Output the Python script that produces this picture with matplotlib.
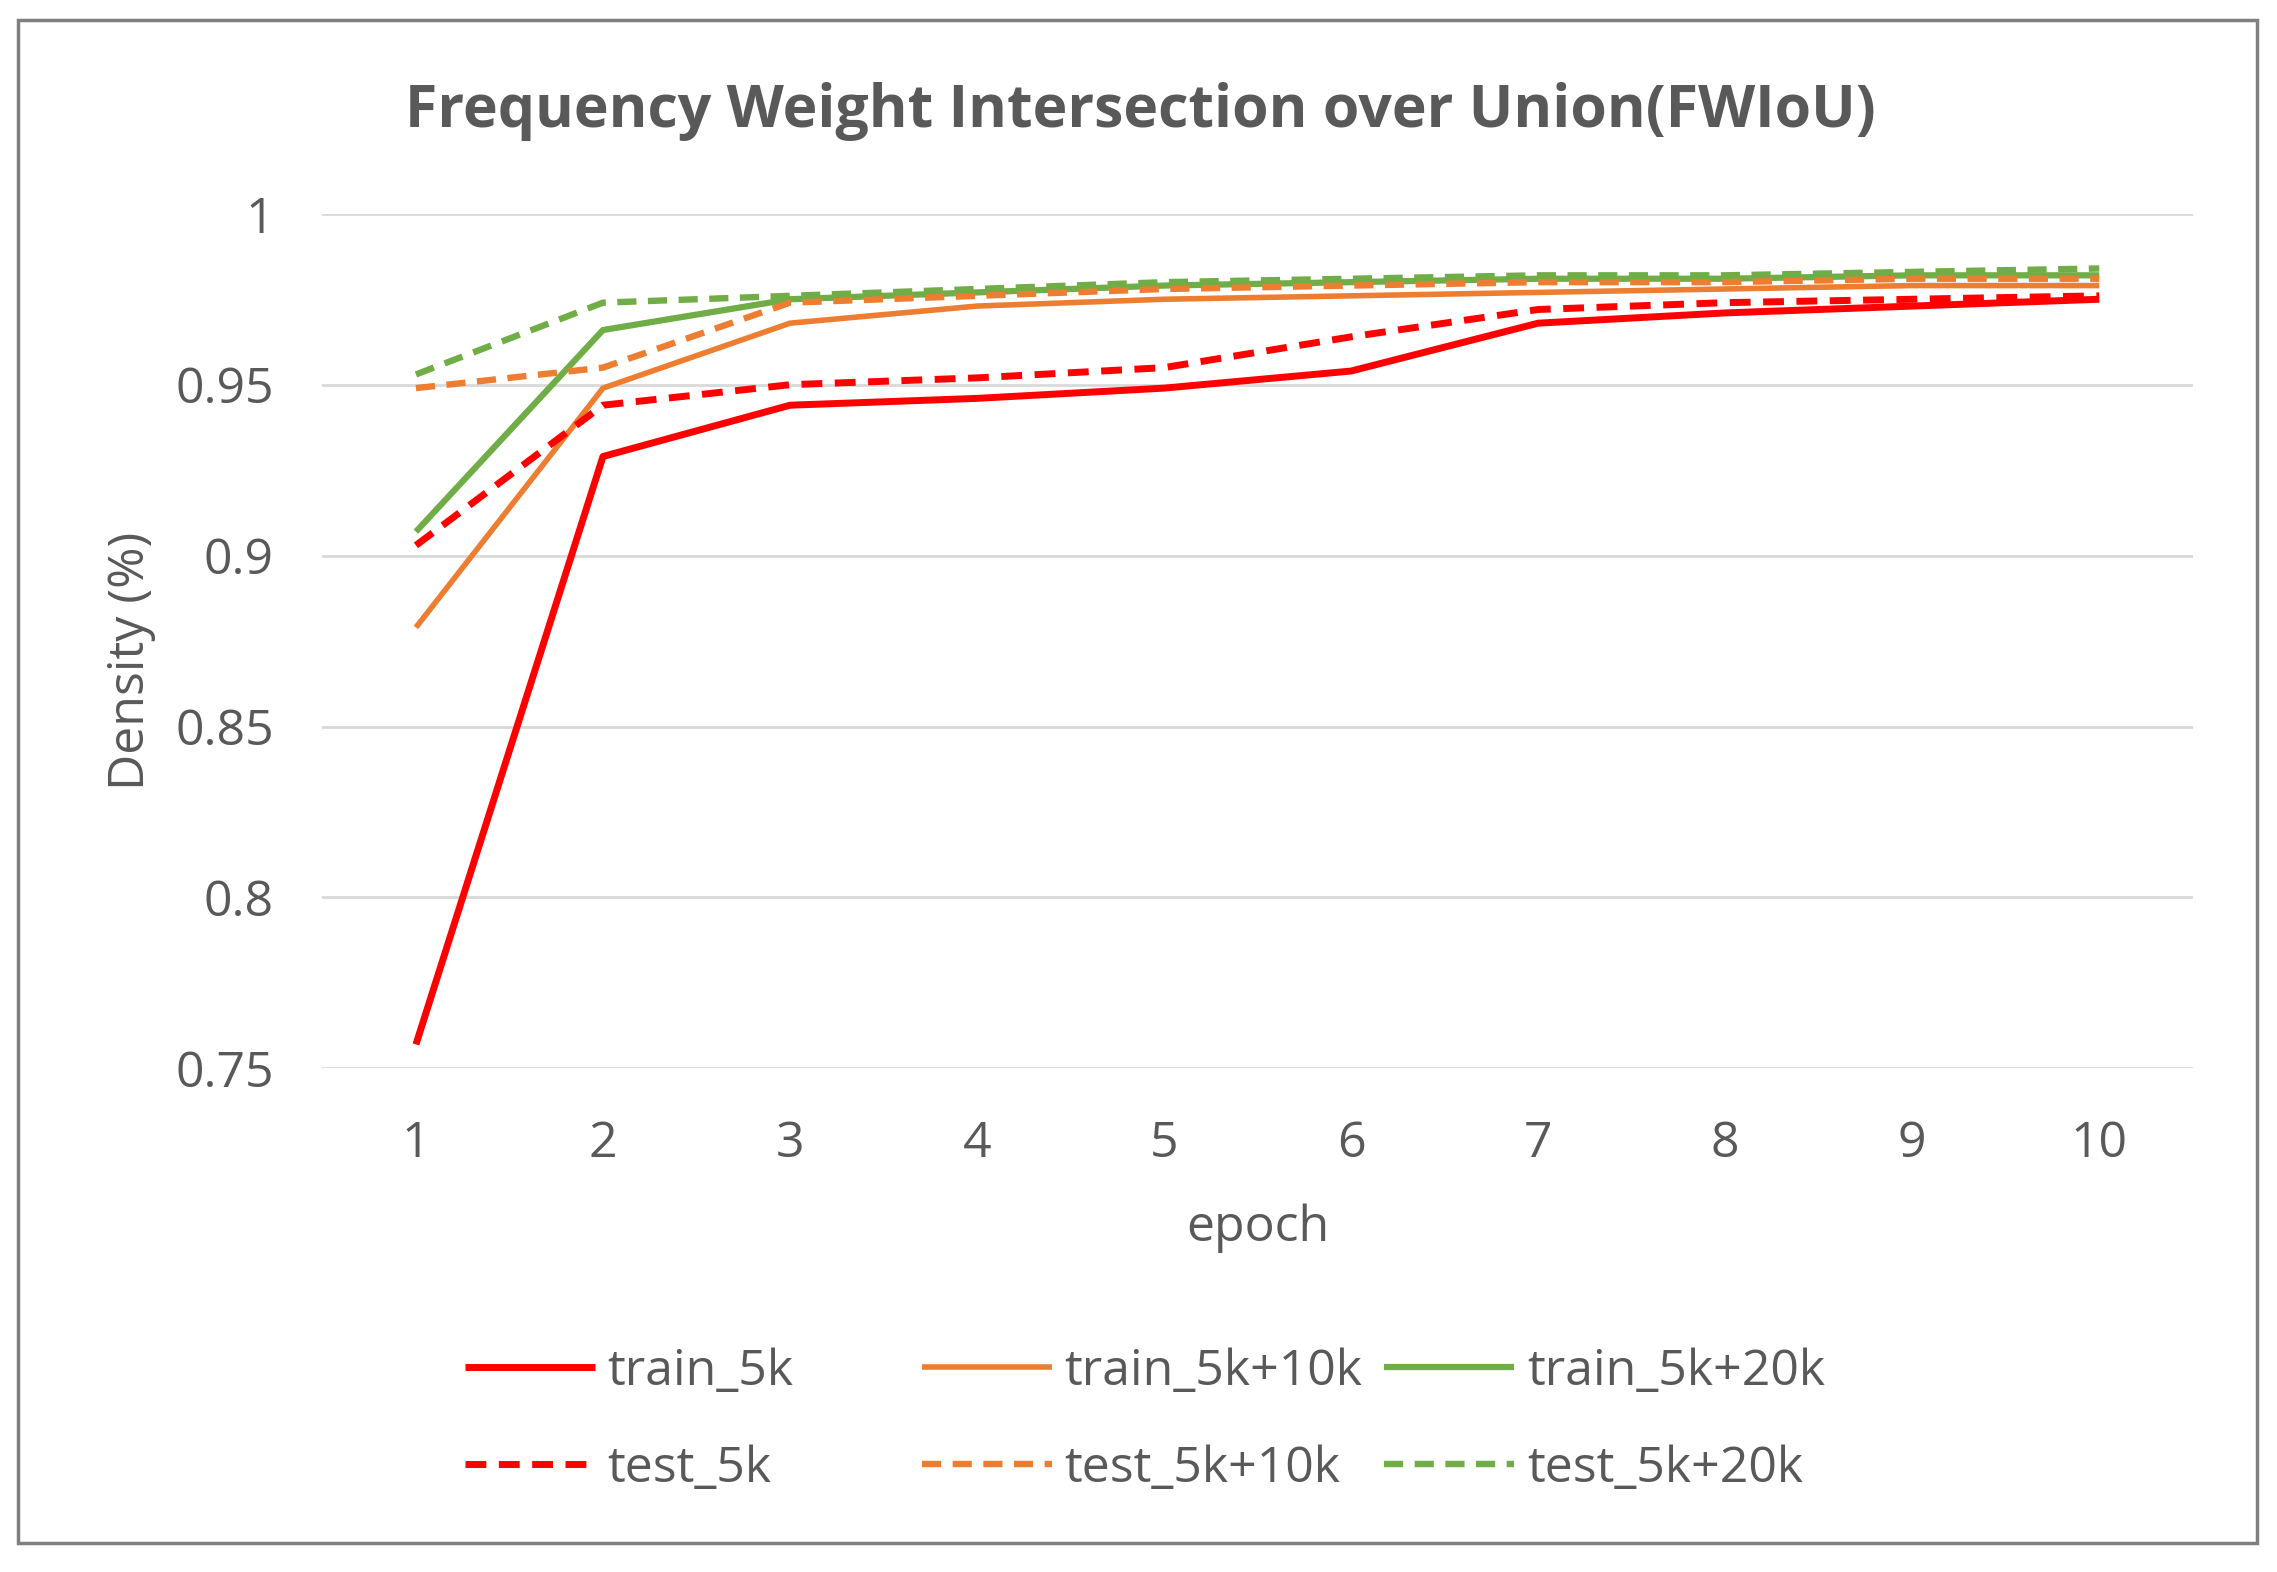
import matplotlib
matplotlib.use('Agg')
import matplotlib.pyplot as plt
from matplotlib.patches import Rectangle

epochs = ['1', '2', '3', '4', '5', '6', '7', '8', '9', '10']

train_5k = [0.757, 0.929, 0.944, 0.946, 0.949, 0.954, 0.968, 0.971, 0.973, 0.975]
test_5k = [0.903, 0.944, 0.950, 0.952, 0.955, 0.964, 0.972, 0.974, 0.975, 0.976]
train_5k_10k = [0.879, 0.949, 0.968, 0.973, 0.975, 0.976, 0.977, 0.978, 0.979, 0.979]
test_5k_10k = [0.949, 0.955, 0.974, 0.976, 0.978, 0.979, 0.980, 0.980, 0.981, 0.981]
train_5k_20k = [0.907, 0.966, 0.975, 0.977, 0.979, 0.980, 0.981, 0.981, 0.982, 0.982]
test_5k_20k = [0.953, 0.974, 0.976, 0.978, 0.980, 0.981, 0.982, 0.982, 0.983, 0.984]

y_ticks = [0.75, 0.8, 0.85, 0.9, 0.95, 1.0]
y_tick_labels = ['0.75', '0.8', '0.85', '0.9', '0.95', '1']

RED = '#FF0000'
ORANGE = '#ED7D31'
GREEN = '#70AD47'
TEXT = '#595959'

plt.rcParams['font.family'] = ['Open Sans', 'DejaVu Sans']

fig = plt.figure(figsize=(22.77, 15.72), dpi=100)
ax = fig.add_axes([0.1416, 0.3204, 0.8214, 0.5436])

x = list(range(len(epochs)))
dash = (3, 1.8)

series = [
    ('train_5k', train_5k, RED, 5.0, None),
    ('train_5k+10k', train_5k_10k, ORANGE, 4.0, None),
    ('train_5k+20k', train_5k_20k, GREEN, 4.5, None),
    ('test_5k', test_5k, RED, 5.0, dash),
    ('test_5k+10k', test_5k_10k, ORANGE, 4.6, dash),
    ('test_5k+20k', test_5k_20k, GREEN, 4.6, dash),
]

handles = {}
for name, values, color, lw, dashes in series:
    line, = ax.plot(x, values, color=color, linewidth=lw, label=name,
                    solid_capstyle='butt', dash_capstyle='butt')
    if dashes:
        line.set_dashes(dashes)
    handles[name] = line

ax.set_xlim(-0.5, len(epochs) - 0.5)
ax.set_ylim(0.75, 1.0)
ax.set_xticks(x)
ax.set_xticklabels(epochs)
ax.set_yticks(y_ticks)
ax.set_yticklabels(y_tick_labels)
ax.tick_params(axis='both', length=0, labelsize=36, labelcolor=TEXT)
ax.tick_params(axis='x', pad=37)
ax.tick_params(axis='y', pad=35)
ax.grid(axis='y', color='#D9D9D9', linewidth=2)
ax.set_axisbelow(True)
for s in ax.spines.values():
    s.set_visible(False)

ax.set_xlabel('epoch', fontsize=36, color=TEXT, labelpad=25)
ax.set_ylabel('Density (%)', fontsize=36, color=TEXT)
ax.yaxis.set_label_coords(-0.089, 0.477)

fig.text(0.5007, 0.929, 'Frequency Weight Intersection over Union(FWIoU)',
         fontsize=42.5, fontweight='bold', color=TEXT, ha='center', va='center')

# legend: three columns placed by hand like the Excel layout
columns = [
    (['train_5k', 'test_5k'], 0.204),
    (['train_5k+10k', 'test_5k+10k'], 0.405),
    (['train_5k+20k', 'test_5k+20k'], 0.608),
]
for names, left in columns:
    leg = fig.legend([handles[n] for n in names], names, loc='center left',
                     bbox_to_anchor=(left, 0.0965), frameon=False,
                     fontsize=36, handlelength=2.6, handletextpad=0.25,
                     borderpad=0, borderaxespad=0, labelspacing=0.95,
                     labelcolor=TEXT)

fig.patches.append(Rectangle((18 / 2277, 1 - 1543 / 1572),
                             (2257 - 18) / 2277, (1543 - 20) / 1572,
                             transform=fig.transFigure, fill=False,
                             edgecolor='#7F7F7F', linewidth=2.5))

fig.savefig('out.png', dpi=100)
